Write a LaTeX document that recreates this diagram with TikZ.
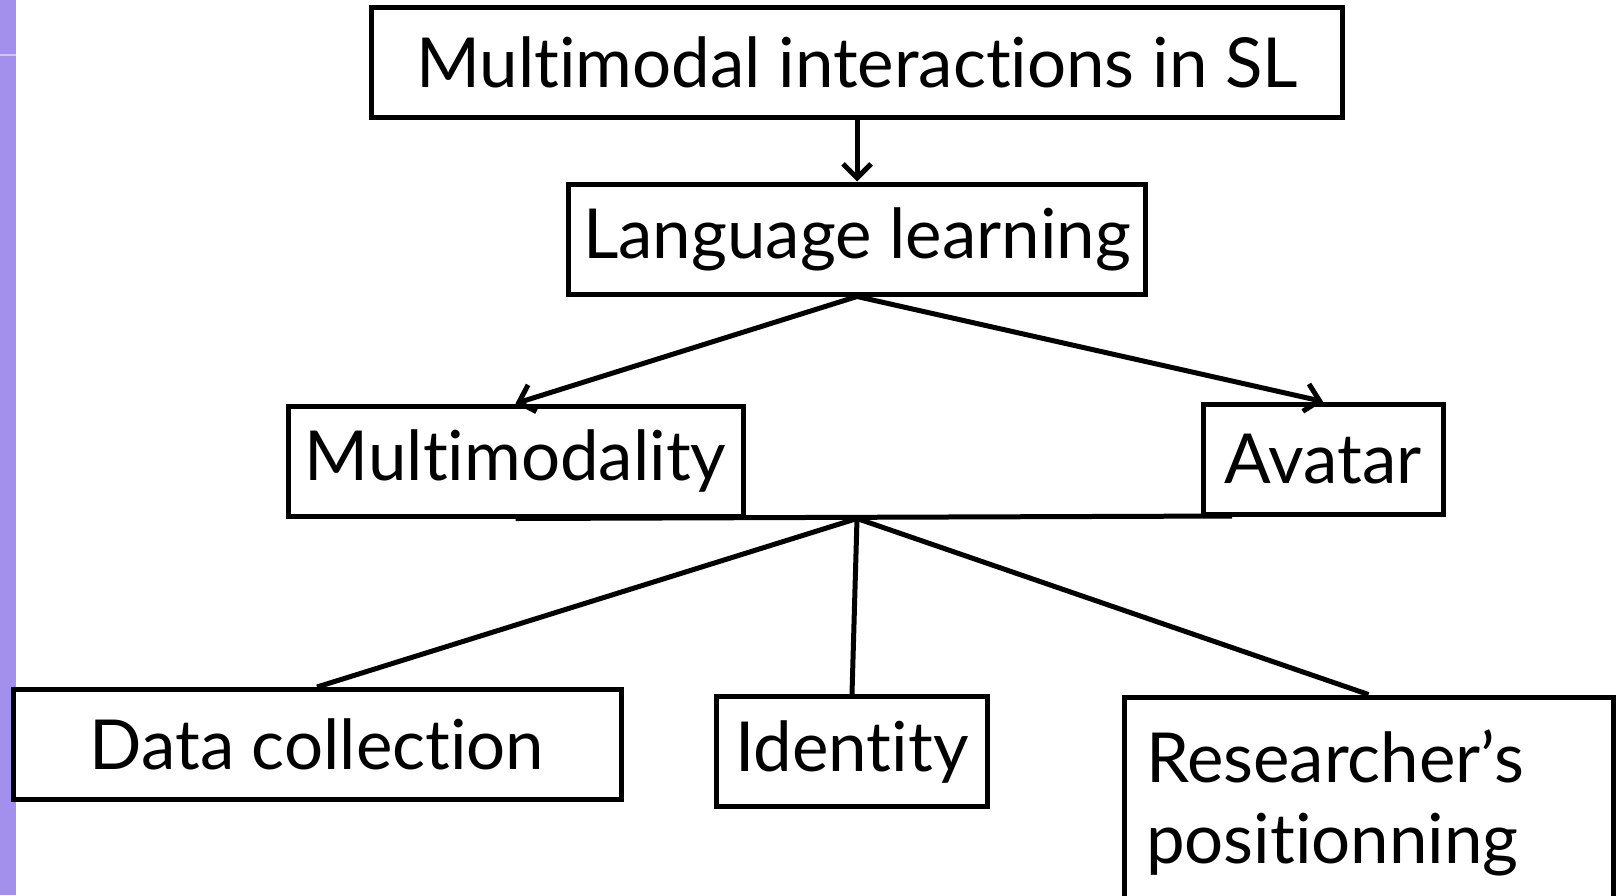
\documentclass[tikz,border=0pt]{standalone}
\usepackage{fontspec}
\setmainfont{Lato}[Ligatures=NoCommon]
\usetikzlibrary{arrows.meta}
\usetikzlibrary{positioning}
\definecolor{slidepurple}{RGB}{163,143,236}
\tikzset{
  topic/.style={draw, line width=2.5pt, inner sep=0pt, align=center,
    minimum height=55pt, font=\fontsize{34.5}{40.5}\selectfont},
  link/.style={line width=2.5pt},
  arrowlink/.style={link, -{Straight Barb[length=7pt,width=14pt]}},
}

\begin{document}
\begin{tikzpicture}[x=0.5pt,y=-0.5pt]
  \useasboundingbox (0,0) rectangle (1616,895);
  \fill[slidepurple] (0,0) rectangle (16,895);
  \draw[white, opacity=0.5, line width=1pt] (0,55) -- (16,55);

  \node[topic, minimum width=485.5pt] (root) at (857,62) {Multimodal interactions in SL};
  \node[topic, minimum width=288.5pt] (lang) at (857,239) {Language learning};

  \node[topic, minimum width=227.5pt] (mmod) at (515.5,461) {Multimodality};
  \node[topic, minimum width=120pt] (avatar) at (1323,459) {Avatar};

  \node[topic, minimum width=304pt] (data) at (317,744.5) {Data collection};
  \node[topic, minimum width=135.5pt] (ident) at (852,751.5) {Identity};
  \node[topic, minimum width=244.5pt, minimum height=106pt, align=left,
    text width=222.5pt, inner xsep=11pt] (res) at (1368.5,803) {Researcher’s\\positionning};

  \draw [arrowlink] (root) -- (lang);
  \draw [arrowlink] (lang.south) -- (mmod.north);
  \draw [arrowlink] (lang.south) -- (avatar.north);

  % bar under the middle row
  \coordinate (hub) at (lang.south |- mmod.south);
  \coordinate (barend) at (1232,516);
  \draw [link] (mmod.south) -- (barend);

  \draw [link] (hub) -- (data.north);
  \draw [link] (hub) -- (ident.north);
  \draw [link] (hub) -- (res.north);
\end{tikzpicture}
\end{document}
